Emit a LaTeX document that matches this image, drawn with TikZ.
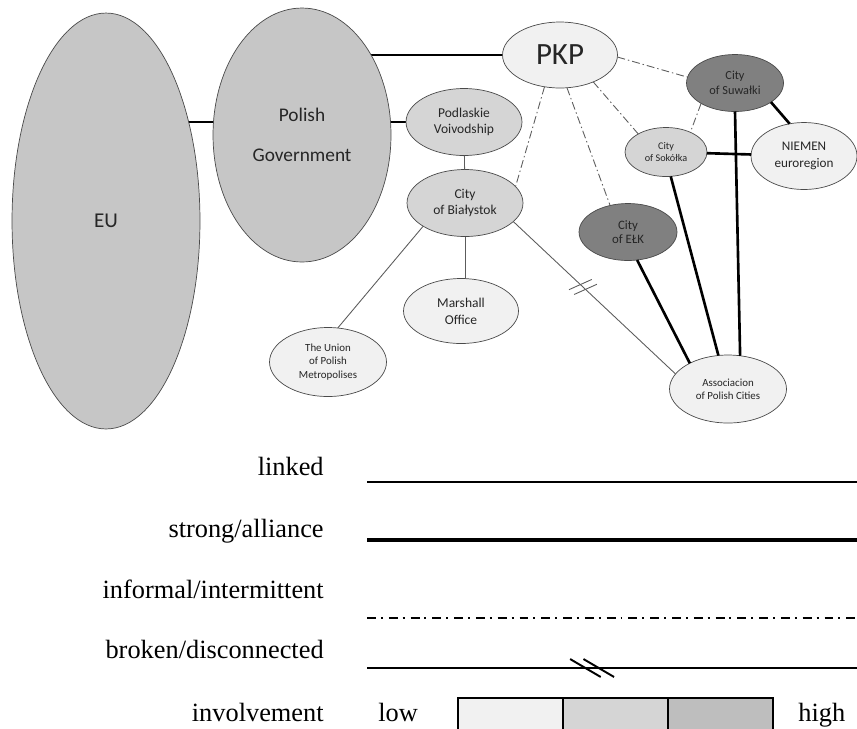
\documentclass[tikz,border=0pt]{standalone}
\usepackage{fontspec}
\setmainfont{Liberation Serif}
\newfontfamily\nodefont{Carlito}
\usepackage{tikz}
\usetikzlibrary{shapes.geometric,backgrounds,decorations.markings}
\definecolor{ivInk}{HTML}{4A4A4A}
\definecolor{ivLine}{HTML}{5C5C5C}
\definecolor{ivLow}{HTML}{F1F1F1}
\definecolor{ivMid}{HTML}{D5D5D5}
\definecolor{ivHigh}{HTML}{C6C6C6}
\definecolor{ivKey}{HTML}{BEBEBE}
\definecolor{ivDark}{HTML}{808080}
\tikzset{
  actor/.style={ellipse,draw=ivInk,line width=0.4pt,
    inner sep=0pt,outer sep=0pt,align=center,text=black!85},
  lowact/.style={actor,fill=ivLow},
  midact/.style={actor,fill=ivMid},
  highact/.style={actor,fill=ivHigh},
  topact/.style={actor,fill=ivDark},
  lnk/.style={line width=0.5pt,color=ivLine},
  strg/.style={line width=1.5pt,color=black},
  infl/.style={line width=0.5pt,color=ivLine,
    dash pattern=on 4.5pt off 1.7pt on 0.8pt off 1.7pt},
  brkn/.style={lnk,postaction={decorate,decoration={markings,
    mark=at position 0.43 with {
      \draw[lnk] (-4.73pt,-6.55pt) -- (0.73pt,6.55pt);
      \draw[lnk] (-0.73pt,-6.55pt) -- (4.73pt,6.55pt);}}}},
  keytxt/.style={inner sep=0pt,font=\fontsize{15}{17}\selectfont},
  keylnk/.style={line width=1pt,color=black},
  keystrg/.style={line width=2.4pt,color=black},
  keyinfl/.style={line width=1.1pt,color=black,
    dash pattern=on 5.1pt off 2.8pt on 1.1pt off 3.4pt},
  keybrkn/.style={keylnk,line width=1.1pt,postaction={decorate,decoration={markings,
    mark=at position 0.459 with {
      \draw[keylnk,line width=1.1pt] (-12.4pt,5.1pt) -- (5pt,-5.1pt);
      \draw[keylnk,line width=1.1pt] (-4.8pt,5.1pt) -- (12.6pt,-5.1pt);}}}},
  ivcell/.style={rectangle,draw=black,line width=1.1pt,inner sep=0pt,
    minimum width=2.1cm,minimum height=0.66cm},
}

\begin{document}
\begin{tikzpicture}[x=0.02cm,y=-0.02cm]
  \useasboundingbox (0,0) rectangle (857,728);

  % actors
  \node[highact,minimum width=3.76cm,minimum height=8.32cm,
    font=\nodefont\fontsize{12}{14}\selectfont] (eu) at (106,221) {EU};
  \node[highact,minimum width=3.56cm,minimum height=5.08cm,
    font=\nodefont\fontsize{11}{22.7}\selectfont] (gov) at (302,135) {Polish\\Government};
  \node[lowact,minimum width=2.30cm,minimum height=1.32cm,
    font=\nodefont\fontsize{17.6}{20}\selectfont] (pkp) at (560,55) {PKP};
  \node[midact,minimum width=2.32cm,minimum height=1.34cm,
    font=\nodefont\fontsize{7.7}{9.5}\selectfont] (podl) at (464,122) {Podlaskie\\Voivodship};
  \node[midact,minimum width=2.32cm,minimum height=1.34cm,
    font=\nodefont\fontsize{7.7}{9.5}\selectfont] (bial) at (465,203) {City\\of Białystok};
  \node[lowact,minimum width=2.30cm,minimum height=1.30cm,
    font=\nodefont\fontsize{7.7}{9.5}\selectfont] (marsh) at (461,311) {Marshall\\Office};
  \node[lowact,minimum width=2.34cm,minimum height=1.38cm,
    font=\nodefont\fontsize{6.2}{7.9}\selectfont] (union) at (328,362)
    {The Union\\of Polish\\Metropolises};
  \node[topact,minimum width=1.96cm,minimum height=1.14cm,
    font=\nodefont\fontsize{7.3}{7.6}\selectfont] (elk) at (628,232) {City\\of EŁK};
  \node[midact,minimum width=1.64cm,minimum height=0.98cm,
    font=\nodefont\fontsize{5.8}{7.2}\selectfont] (sok) at (666,152) {City\\of Sokółka};
  \node[topact,minimum width=1.94cm,minimum height=1.14cm,
    font=\nodefont\fontsize{7}{8.3}\selectfont] (suw) at (735,83) {City\\of Suwałki};
  \node[lowact,minimum width=2.12cm,minimum height=1.34cm,
    font=\nodefont\fontsize{7.5}{10}\selectfont] (niem) at (804,156) {NIEMEN\\euroregion};
  \node[lowact,minimum width=2.34cm,minimum height=1.36cm,
    font=\nodefont\fontsize{6.2}{7.6}\selectfont] (assoc) at (728,389)
    {Associacion\\of Polish Cities};

  % ties
  \begin{scope}[on background layer]
    \draw[strg] (eu |- podl) -- (gov |- podl);
    \draw[strg] (gov |- podl) -- (podl);
    \draw[strg] (gov |- pkp) -- (pkp);
  \end{scope}
  \draw[infl] (pkp.244) -- (bial.18);
  \draw[infl] (pkp.282) -- (elk.124);
  \draw[infl] (pkp.321) -- (sok.147);
  \draw[infl] (pkp.358) -- (suw.173);
  \draw[infl] (suw.211) -- (sok.39);
  \draw[strg] (suw.332) -- (niem.114);
  \draw[strg] (sok) -- (niem);
  \draw[strg] (suw.270) -- (assoc.70);
  \draw[strg] (sok.281) -- (assoc.106);
  \draw[strg] (elk.288) -- (assoc.146);
  \draw[lnk] (podl) -- (bial);
  \draw[lnk] (bial.south) -- (bial.south |- marsh.north);
  \draw[lnk] (bial.209) -- (union.74);
  \draw[brkn] (bial.339) -- (assoc.164);

  % key
  \node[keytxt,anchor=base east] (klinked) at (324,475) {linked};
  \node[keytxt,anchor=base east] (kstrong) at (324,537) {strong/alliance};
  \node[keytxt,anchor=base east] (kinform) at (324,598) {informal/intermittent};
  \node[keytxt,anchor=base east] (kbroken) at (324,658) {broken/disconnected};
  \node[keytxt,anchor=base east] (kinvolv) at (324,721) {involvement};

  \coordinate (lkA) at (367,482);  \coordinate (lkB) at (857,482);
  \coordinate (stA) at (367,540);  \coordinate (stB) at (857,540);
  \coordinate (inA) at (367,618);  \coordinate (inB) at (857,618);
  \coordinate (brA) at (367,668);  \coordinate (brB) at (857,668);
  \draw[keylnk] (lkA) -- (lkB);
  \draw[keystrg] (stA) -- (stB);
  \draw[keyinfl] (inA) -- (inB);
  \draw[keybrkn] (brA) -- (brB);

  \node[keytxt,anchor=base west] (klow) at (378,721) {low};
  \node[ivcell,fill=ivLow] (cLow) at (510.5,714.5) {};
  \node[ivcell,fill=ivMid] (cMid) at (615.5,714.5) {};
  \node[ivcell,fill=ivKey] (cHigh) at (720.5,714.5) {};
  \node[keytxt,anchor=base west] (khigh) at (798,721) {high};
\end{tikzpicture}
\end{document}
